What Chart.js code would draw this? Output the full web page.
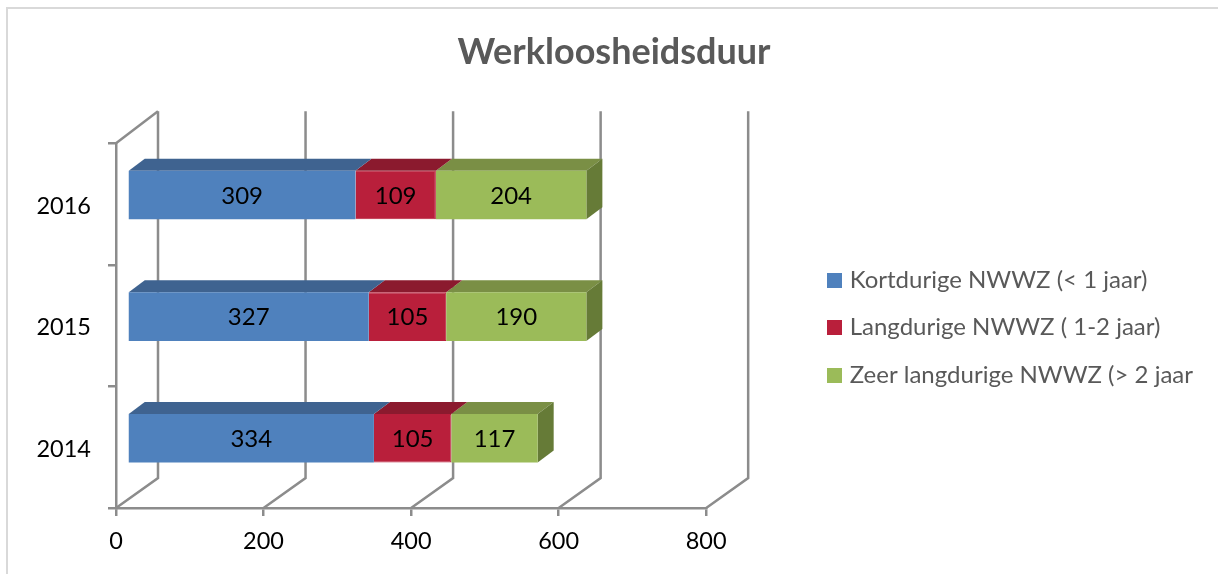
<!DOCTYPE html>
<html lang="nl">
<head>
<meta charset="utf-8">
<title>Werkloosheidsduur</title>
<script src="https://cdn.jsdelivr.net/npm/chart.js@4"></script>
<style>
html,body{margin:0;padding:0;background:#fff;overflow:hidden}
#frame{position:absolute;left:6px;top:7px;right:0;bottom:0;border-top:2px solid #d9d9d9;border-left:2px solid #d9d9d9}
canvas{position:absolute;left:0;top:0}
</style>
</head>
<body>
<div id="frame"></div>
<canvas id="c" width="1218" height="574"></canvas>
<script>
const titleText = 'Werkloosheidsduur';
const categories = ['2016', '2015', '2014'];
const seriesNames = ['Kortdurige NWWZ (< 1 jaar)', 'Langdurige NWWZ ( 1-2 jaar)', 'Zeer langdurige NWWZ (> 2 jaar'];
const kortdurig = [309, 327, 334];
const langdurig = [109, 105, 105];
const zeerLangdurig = [204, 190, 117];
const xTicks = [0, 200, 400, 600, 800];

const FONT = 'Lato';
const AXIS = '#8c8c8c';
const front = ['#4F81BD', '#B91F3B', '#9BBB59'];
const topFace = ['#3F6390', '#8B1A2E', '#7A8F45'];
const sideFace = ['#3F6390', '#8B1A2E', '#667B37'];
const shift = {x: 11.5, y: -9};   // front of the bars relative to the front axis plane
const barDepth = {x: 16, y: -12}; // depth of a bar
const wall = {x: 42, bottomY: -30, topY: -32}; // depth of the back wall

function swatch(color) {
  const s = document.createElement('canvas');
  s.width = 15; s.height = 15;
  const g = s.getContext('2d');
  g.fillStyle = color;
  g.fillRect(0, 0, 15, 15);
  return s;
}

const threeD = {
  id: 'threeD',
  afterLayout(chart) {
    chart.legend.top += 2;
    chart.legend.bottom += 2;
  },
  beforeDatasetsDraw(chart) {
    const {ctx, scales: {x, y}} = chart;
    const bottom = y.bottom, top = y.top;
    ctx.save();
    ctx.strokeStyle = AXIS;
    ctx.lineWidth = 2.5;
    xTicks.forEach(v => {
      const px = x.getPixelForValue(v);
      ctx.beginPath();
      ctx.moveTo(px, bottom);
      ctx.lineTo(px + wall.x, bottom + wall.bottomY);
      ctx.lineTo(px + wall.x, top + wall.topY);
      ctx.stroke();
    });
    const x0 = x.getPixelForValue(0);
    ctx.beginPath();
    ctx.moveTo(x0, top);
    ctx.lineTo(x0 + wall.x, top + wall.topY);
    ctx.stroke();
    ctx.restore();
  },
  beforeDatasetDraw(chart, args) {
    const {ctx} = chart;
    const i = args.index;
    const last = i === chart.data.datasets.length - 1;
    ctx.save();
    ctx.translate(shift.x, shift.y);
    args.meta.data.forEach(el => {
      const p = el.getProps(['x', 'y', 'base', 'height'], true);
      const t = p.y - p.height / 2, b = p.y + p.height / 2;
      ctx.fillStyle = topFace[i];
      ctx.beginPath();
      ctx.moveTo(p.base, t);
      ctx.lineTo(p.base + barDepth.x, t + barDepth.y);
      ctx.lineTo(p.x + barDepth.x, t + barDepth.y);
      ctx.lineTo(p.x, t);
      ctx.closePath();
      ctx.fill();
      if (last) {
        ctx.fillStyle = sideFace[i];
        ctx.beginPath();
        ctx.moveTo(p.x, t);
        ctx.lineTo(p.x + barDepth.x, t + barDepth.y);
        ctx.lineTo(p.x + barDepth.x, b + barDepth.y);
        ctx.lineTo(p.x, b);
        ctx.closePath();
        ctx.fill();
      }
    });
  },
  afterDatasetDraw(chart) {
    chart.ctx.restore();
  },
  afterDatasetsDraw(chart) {
    const {ctx} = chart;
    ctx.save();
    ctx.font = '24px ' + FONT;
    ctx.fillStyle = '#000';
    ctx.textAlign = 'center';
    ctx.textBaseline = 'middle';
    chart.data.datasets.forEach((ds, i) => {
      chart.getDatasetMeta(i).data.forEach((el, j) => {
        const p = el.getProps(['x', 'y', 'base'], true);
        ctx.fillText(String(ds.data[j]), (p.x + p.base) / 2 + shift.x, p.y + shift.y + 1);
      });
    });
    ctx.restore();
  }
};

new Chart(document.getElementById('c'), {
  type: 'bar',
  plugins: [threeD],
  data: {
    labels: categories,
    datasets: [
      {label: seriesNames[0], data: kortdurig, backgroundColor: front[0]},
      {label: seriesNames[1], data: langdurig, backgroundColor: front[1], borderColor: front[1], borderWidth: 1},
      {label: seriesNames[2], data: zeerLangdurig, backgroundColor: front[2]}
    ]
  },
  options: {
    indexAxis: 'y',
    responsive: false,
    animation: false,
    events: [],
    categoryPercentage: 0.4,
    barPercentage: 1,
    layout: {padding: {left: 25, right: 15, top: 0, bottom: 0}},
    scales: {
      x: {
        stacked: true,
        min: 0,
        max: 800,
        afterBuildTicks(s) { s.ticks = xTicks.map(v => ({value: v})); },
        afterFit(s) { s.height = 66; },
        border: {color: AXIS, width: 2.5},
        grid: {drawOnChartArea: false, color: AXIS, lineWidth: 2.5, tickLength: 8},
        ticks: {color: '#000', font: {family: FONT, size: 23.5}, padding: 11, maxRotation: 0, autoSkip: false}
      },
      y: {
        stacked: true,
        afterFit(s) { s.width = 91; },
        border: {color: AXIS, width: 2.5},
        grid: {drawOnChartArea: false, color: AXIS, lineWidth: 2.5, tickLength: 8},
        ticks: {color: '#000', font: {family: FONT, size: 23.5}, padding: 17, labelOffset: 2}
      },
      spacer: {
        axis: 'y',
        position: 'right',
        afterFit(s) { s.width = 101; },
        grid: {display: false},
        border: {display: false},
        ticks: {display: false}
      }
    },
    plugins: {
      tooltip: {enabled: false},
      title: {
        display: true,
        text: titleText,
        color: '#595959',
        font: {family: FONT, size: 36, weight: 'bold'},
        padding: {top: 31, bottom: 69}
      },
      legend: {
        position: 'right',
        fullSize: false,
        maxWidth: 600,
        labels: {
          color: '#595959',
          font: {family: FONT, size: 24},
          usePointStyle: true,
          pointStyleWidth: 7,
          boxHeight: 15,
          padding: 23.5,
          generateLabels(chart) {
            return Chart.defaults.plugins.legend.labels.generateLabels(chart)
              .map((l, i) => Object.assign(l, {pointStyle: swatch(front[i])}));
          }
        }
      }
    }
  }
});
</script>
</body>
</html>
